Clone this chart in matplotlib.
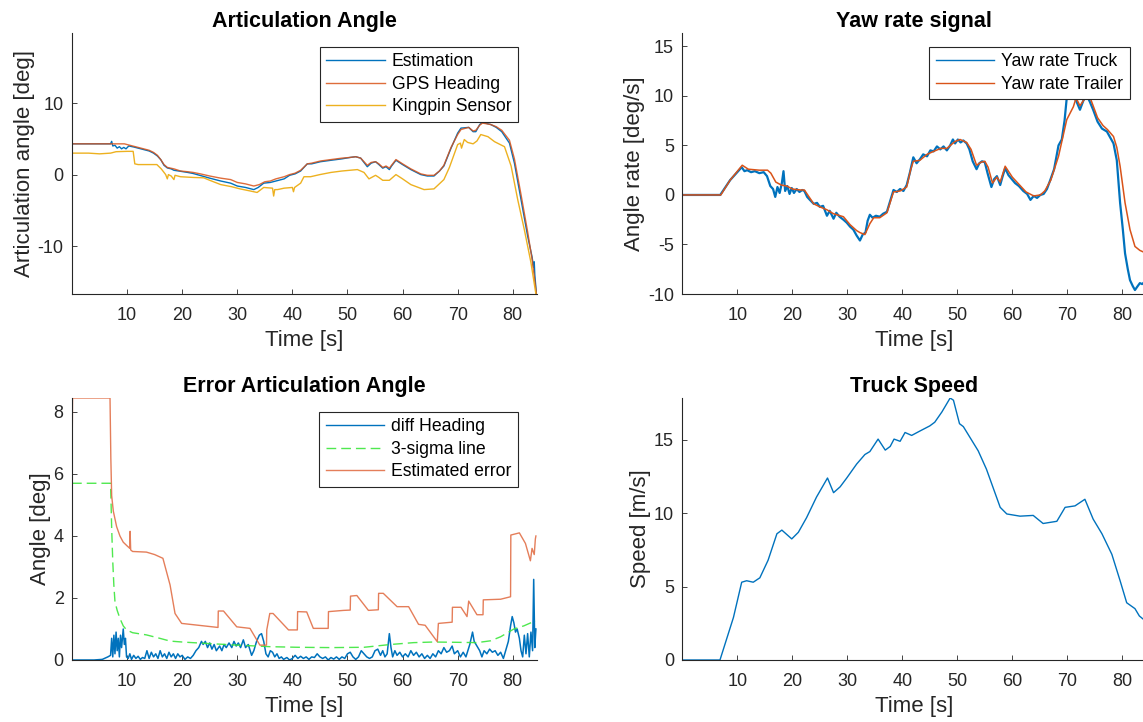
import numpy as np
import matplotlib
matplotlib.use('Agg')
import matplotlib.pyplot as plt

plt.rcParams['font.family'] = ['Liberation Sans', 'DejaVu Sans']
plt.rcParams['axes.unicode_minus'] = False

# ---- articulation angle [deg] ----
est_t = [0, 7.0, 7.2, 7.4, 7.8, 8.2, 8.6, 9.0, 9.4, 9.8, 10.3, 11.2, 12, 13, 14, 14.8, 15.5, 16.1, 16.7,
         17.3, 18, 18.5, 19.7, 21, 22, 23.3, 25, 27, 28.8, 30, 31.5, 33, 33.8, 34.8, 36, 37, 38.5, 39.5,
         40.5, 41.5, 42.7, 43.5, 45.1, 47, 49, 50.5, 51.5, 52.4, 53.6, 54.3, 55.1, 55.7, 56.4, 57.0, 57.6,
         58.0, 58.8, 60, 61.5, 63.3, 64.5, 65.7, 66.7, 67.5, 68.8, 70, 70.6, 72, 72.8, 73.3, 74, 74.5, 76,
         77, 78, 79.4, 80.3, 81.5, 82.7, 83.5, 83.8, 83.9, 84.0, 84.3]
est = [4.3, 4.3, 4.65, 4.0, 4.1, 3.7, 3.9, 3.6, 3.8, 3.6, 4.0, 3.86, 3.7, 3.5, 3.3, 3.0, 2.6, 2.1, 1.3,
       0.93, 0.8, 0.6, 0.46, 0.3, 0.15, -0.13, -0.5, -0.9, -1.2, -1.6, -1.8, -2.1, -1.8, -1.2, -1.1, -0.9,
       -0.6, -0.1, 0.1, 0.5, 1.5, 1.5, 1.8, 2.0, 2.2, 2.4, 2.5, 2.3, 1.1, 1.6, 1.8, 1.4, 0.9, 1.1, 0.7,
       1.2, 2.0, 1.4, 0.7, 0.0, -0.2, -0.2, 0.5, 1.2, 3.7, 5.8, 6.5, 6.6, 6.0, 6.0, 7.0, 7.3, 7.0,
       6.6, 6.0, 4.4, 1.6, -3.5, -8.6, -11.5, -13.0, -12.2, -14.0, -16.7]

gps_t = [0, 9.5, 10.5, 11.5, 13, 14, 14.8, 15.5, 16.1, 16.7, 17.3, 18.5, 19.7, 21, 22, 23.3, 25, 27, 28.8,
         30, 31.5, 33, 34, 35, 36, 37, 38.5, 39.5, 40.5, 41.5, 42.7, 43.5, 45.1, 47, 49, 50.5, 51.5, 52.4,
         53.6, 54.3, 55.1, 55.7, 56.4, 57.0, 57.6, 58.0, 58.8, 60, 61.5, 63.3, 64.5, 65.7, 66.7, 67.5, 68.8,
         70, 70.6, 72, 72.8, 73.3, 74, 74.5, 76, 77, 78, 79.4, 80.3, 81.5, 82.7, 83.5, 84.3]
gps = [4.3, 4.3, 4.1, 3.9, 3.6, 3.4, 3.1, 2.7, 2.1, 1.4, 1.0, 0.8, 0.5, 0.4, 0.3, 0.1, -0.2, -0.5, -0.7,
       -1.1, -1.3, -1.6, -1.4, -1.0, -0.9, -0.6, -0.3, 0.0, 0.2, 0.6, 1.5, 1.6, 1.9, 2.1, 2.3, 2.4, 2.5, 2.3,
       1.3, 1.7, 1.8, 1.5, 1.0, 1.2, 0.9, 1.3, 2.1, 1.5, 0.8, 0.1, -0.1, -0.1, 0.5, 1.3, 3.8,
       5.6, 6.3, 6.6, 6.1, 6.2, 6.9, 7.2, 7.0, 6.7, 6.2, 4.8, 2.2, -2.8, -8.0, -11.8, -16.7]

king_t = [0, 3, 5, 7, 8, 10, 11.1, 11.4, 12, 13, 14, 15.4, 16.2, 17.0, 17.3, 17.5, 18, 18.5, 18.7, 19.7,
          22, 23.9, 25, 27, 29, 30.5, 32.4, 33.6, 34.8, 36.4, 36.6, 36.8, 37.3, 38.5, 40.0, 40.2, 40.4, 41.5,
          42.1, 43.3, 45, 47, 49, 51.8, 53.0, 53.9, 55.1, 55.7, 56.4, 57.6, 58.8, 60, 61.5, 63.9, 65.7, 67.5,
          68.5, 70, 70.5, 70.7, 71.2, 71.8, 72.8, 73.5, 74.2, 75.5, 76.7, 78.5, 79.7, 80.9, 82.1, 83.3, 84.2]
king = [3.0, 3.0, 2.9, 3.0, 3.2, 3.25, 3.25, 1.5, 1.4, 1.4, 1.4, 1.4, 0.8, 0.0, -0.6, 0.0, -0.2, -0.7, -0.1, -0.3,
        -0.4, -0.45, -0.8, -1.4, -1.7, -2.0, -2.3, -2.5, -1.8, -1.9, -3.0, -2.1, -2.1, -1.9, -1.8, -2.4, -1.8, -1.2,
        -0.3, -0.3, 0.0, 0.3, 0.5, 0.7, 0.3, -0.6, -0.1, -0.4, -0.8, -0.8, 0.0, -0.6, -1.4, -2.1, -2.0, -0.7,
        1.0, 4.2, 4.4, 3.7, 4.9, 4.5, 4.3, 4.7, 5.6, 5.3, 4.6, 3.9, 1.2, -3.5, -7.7, -12.3, -16.7]

# ---- yaw rate [deg/s] ----
truck_t = [0, 6.9, 8.7, 10.0, 10.8, 11.3, 11.8, 12.5, 13.2, 14.0, 14.8, 15.4, 16.0, 16.5, 16.9, 17.3, 17.7,
           18.1, 18.4, 18.7, 19.1, 19.5, 19.9, 20.3, 20.8, 21.3, 21.8, 22.2, 22.7, 23.2, 23.9, 24.5, 25.0,
           25.6, 26.3, 26.8, 27.5, 28.0, 28.6, 29.3, 29.9, 30.5, 31.1, 31.7, 32.3, 32.8, 33.3, 33.7, 34.1,
           34.6, 35.2, 35.9, 36.5, 37.2, 37.8, 38.4, 39.0, 39.6, 40.2, 40.8, 41.4, 42.0, 42.6, 43.2, 43.8,
           44.5, 45.1, 45.7, 46.3, 46.9, 47.5, 48.1, 48.7, 49.2, 49.6, 50.1, 50.6, 51.1, 51.7, 52.2, 52.8,
           53.5, 54.0, 54.5, 55.0, 55.5, 56.2, 56.7, 57.2, 57.8, 58.2, 58.7, 59.3, 59.9, 60.5, 61.2, 62.0,
           62.7, 63.3, 63.9, 64.5, 65.1, 65.7, 66.3, 66.9, 67.6, 68.4, 69.0, 69.5, 69.9, 70.5, 71.1, 71.7,
           72.3, 72.9, 73.5, 74.1, 74.7, 75.5, 76.3, 77.2, 77.8, 78.4, 79.0, 79.6, 80.1, 80.5, 81.0, 81.4,
           81.9, 82.3, 82.8, 83.2, 83.6, 84.0]
truck = [0, 0, 1.5, 2.3, 2.8, 2.4, 2.5, 2.3, 2.4, 2.2, 2.3, 1.9, 0.9, 0.6, -0.2, 0.8, 0.2,
         1.2, 2.4, 0.4, 0.9, 0.1, 0.7, 0.2, 0.6, 0.3, 0.5, 0.4, -0.2, -0.5, -0.9, -0.8, -1.2,
         -1.1, -2.1, -1.6, -2.4, -1.8, -2.2, -2.5, -2.8, -3.2, -3.5, -4.1, -4.6, -4.0, -3.8, -2.6, -2.0,
         -2.3, -2.1, -2.2, -1.9, -1.7, -0.6, 0.5, 0.3, 0.6, 0.4, 1.0, 2.3, 3.8, 3.2, 3.6, 4.1,
         3.9, 4.5, 4.4, 4.9, 4.6, 4.9, 4.5, 5.0, 5.6, 5.2, 5.6, 5.3, 5.5, 5.2, 4.6, 3.4,
         2.6, 3.2, 3.4, 3.3, 2.2, 0.8, 1.6, 1.9, 1.0, 1.8, 2.7, 2.0, 1.6, 1.2, 0.9, 0.4,
         0.1, -0.5, -0.1, -0.3, 0.0, 0.1, 0.6, 1.5, 2.6, 5.0, 5.6, 7.5, 9.8, 9.9, 10.0, 9.4,
         8.6, 9.5, 10.1, 9.4, 8.6, 7.4, 6.7, 6.4, 5.8, 5.2, 3.5, -0.8, -3.5, -5.9, -7.5, -8.6,
         -9.2, -9.6, -9.2, -8.9, -9.0, -8.8]

trailer_t = [0, 7.0, 8.7, 10.9, 12, 14, 15.5, 16.1, 17, 18, 19, 20, 21.5, 22.2, 23.9, 25, 26.3, 27.5, 29.3,
             30.5, 31.7, 32.3, 33.2, 34.1, 34.8, 35.9, 37.2, 38.4, 39.6, 40.8, 41.5, 42, 43.2, 44.5, 45.7,
             47, 48.1, 49.6, 50.5, 51.7, 52.5, 53.5, 54.3, 55, 55.6, 56.4, 57.2, 57.8, 58.7, 60, 61.5, 62.5,
             63.9, 65.1, 65.9, 67, 68.4, 69.9, 71.1, 71.6, 72.3, 73.5, 74.3, 75.5, 76.5, 77.3, 78.4, 79.0,
             79.6, 80.5, 81.4, 82.3, 83.2, 84.0]
trailer = [0, 0, 1.5, 3.0, 2.6, 2.5, 2.5, 2.2, 1.3, 1.0, 0.9, 0.6, 0.5, 0.5, -0.9, -1.2, -1.5, -1.9, -2.2,
           -3.0, -3.6, -3.8, -4.0, -2.9, -2.3, -2.3, -1.8, 0.3, 0.4, 0.8, 2.5, 3.4, 3.5, 4.1, 4.4,
           4.7, 4.7, 5.4, 5.6, 5.3, 4.6, 3.0, 3.3, 3.4, 2.8, 1.2, 1.8, 1.3, 2.9, 1.8, 0.9, 0.3,
           -0.1, 0.0, 0.4, 1.5, 3.9, 7.6, 8.9, 9.8, 9.0, 10.0, 9.6, 7.8, 7.0, 6.6, 5.9, 4.8,
           2.9, -0.8, -3.5, -5.2, -5.6, -5.8]

# ---- articulation angle error [deg] ----
diff_t = [0, 2, 4, 5.5, 6.5, 7.0, 7.2, 7.4, 7.6, 7.8, 8.0, 8.2, 8.4, 8.6, 8.8, 9.0, 9.3, 9.5, 9.7, 9.9,
          10.2, 10.5, 10.8, 11.2, 11.6, 12.0, 12.4, 12.8, 13.2, 13.6, 14.0, 14.4, 14.8, 15.2, 15.6, 16.0,
          16.4, 16.8, 17.2, 17.6, 18.0, 18.4, 18.8, 19.2, 19.6, 20.0, 20.5, 21.0, 21.5, 22.0, 22.5, 23.0,
          23.5, 23.8, 24.2, 24.6, 25.0, 25.4, 25.8, 26.2, 26.8, 27.2, 27.6, 28.0, 28.5, 29.0, 29.4, 29.8,
          30.2, 30.6, 31.1, 31.5, 32.0, 32.6, 33.0, 33.5, 34.0, 34.4, 34.8, 35.2, 35.6, 36.0, 36.4, 36.8,
          37.2, 37.6, 38.0, 38.4, 39.0, 39.5, 40, 40.5, 41, 41.5, 42, 42.5, 43, 43.5, 44, 44.5, 45, 45.5,
          46, 46.5, 47, 47.5, 48, 48.5, 49, 49.5, 50, 50.5, 51, 51.5, 52, 52.5, 53, 53.5, 54, 54.5, 55,
          55.5, 56, 56.4, 56.8, 57.2, 57.6, 57.9, 58.2, 58.6, 59, 59.5, 60, 60.5, 61, 61.5, 62, 62.5, 63,
          63.5, 64, 64.5, 65, 65.5, 66, 66.5, 67, 67.5, 68, 68.5, 69, 69.4, 70, 70.5, 71, 71.5, 72.2,
          72.7, 73.0, 73.5, 74, 74.4, 74.8, 75.3, 75.8, 76.3, 76.8, 77.3, 77.8, 78.3, 78.7, 79.2, 79.6,
          79.9, 80.2, 80.5, 80.8, 81.2, 81.5, 81.8, 82.1, 82.4, 82.7, 83.0, 83.3, 83.6, 83.8, 84.0, 84.2]
diff_heading = [0, 0.0, 0.0, 0.02, 0.1, 0.15, 0.7, 0.1, 0.8, 0.2, 0.9, 0.3, 0.7, 0.1, 0.8, 0.4, 1.0, 0.5,
                0.7, 0.1, 0.05, 0.2, 0.02, 0.15, 0.05, 0.12, 0.02, 0.08, 0.05, 0.3, 0.05, 0.25, 0.1, 0.2,
                0.05, 0.3, 0.1, 0.2, 0.05, 0.25, 0.1, 0.2, 0.05, 0.2, 0.1, 0.15, 0.02, 0.1, 0.05, 0.15,
                0.3, 0.4, 0.6, 0.5, 0.6, 0.4, 0.55, 0.35, 0.5, 0.3, 0.45, 0.3, 0.5, 0.4, 0.55, 0.4, 0.6,
                0.45, 0.55, 0.4, 0.65, 0.4, 0.5, 0.15, 0.3, 0.6, 0.8, 0.85, 0.6, 0.2, 0.1, 0.3, 0.25, 0.1,
                0.2, 0.05, 0.1, 0.02, 0.08, 0.0, 0.05, 0.15, 0.05, 0.12, 0.05, 0.1, 0.02, 0.1, 0.08, 0.2,
                0.1, 0.05, 0.1, 0.0, 0.08, 0.03, 0.1, 0.02, 0.1, 0.05, 0.2, 0.25, 0.1, 0.02, 0.1, 0.3,
                0.2, 0.1, 0.05, 0.1, 0.3, 0.35, 0.15, 0.3, 0.1, 0.2, 0.85, 0.4, 0.1, 0.3, 0.15, 0.25, 0.1,
                0.2, 0.1, 0.3, 0.15, 0.25, 0.1, 0.2, 0.05, 0.15, 0.05, 0.2, 0.1, 0.3, 0.2, 0.4, 0.25, 0.3,
                0.45, 0.2, 0.3, 0.1, 0.25, 0.1, 0.5, 0.9, 0.6, 0.45, 0.3, 0.1, 0.3, 0.2, 0.35, 0.25, 0.3,
                0.15, 0.25, 0.05, 0.3, 0.6, 1.1, 1.4, 1.2, 0.9, 1.0, 0.7, 0.3, 0.1, 0.8, 0.2, 0.85, 0.1,
                0.9, 0.3, 2.6, 0.4, 1.0]

sigma_t = [0, 7.0, 7.1, 7.2, 7.4, 7.6, 7.8, 8.2, 8.7, 9.3, 9.9, 11, 13.5, 15.5, 17.8, 20, 23.8, 30, 35.9,
           41, 47, 53, 57.8, 62, 65.6, 70, 73.5, 76, 77.8, 80.2, 82, 83.8, 84.2]
sigma3 = [5.7, 5.7, 5.0, 4.25, 3.17, 2.4, 1.88, 1.6, 1.34, 1.1, 0.97, 0.88, 0.81, 0.72, 0.61, 0.58, 0.54,
          0.48, 0.43, 0.41, 0.40, 0.41, 0.5, 0.56, 0.58, 0.57, 0.56, 0.62, 0.75, 1.0, 1.1, 1.24, 1.25]

err_t = [0, 0.1, 6.9, 7.05, 7.2, 7.5, 8.1, 8.7, 9.3, 10.0, 10.5, 10.55, 10.65, 11.0, 13.5, 15.0, 16.5,
         17.8, 18.7, 19.9, 26.5, 26.55, 27.5, 29.9, 32.3, 34.1, 35.3, 35.35, 35.9, 36.5, 39.3, 40.9, 40.95,
         42.6, 43.8, 46.5, 46.55, 49.3, 50.5, 50.55, 51.7, 53.8, 55.6, 55.65, 56.5, 59.0, 61.1, 62.9, 64.1,
         66.3, 66.5, 69.0, 69.05, 70.6, 71.7, 72.0, 73.5, 74.6, 74.65, 77.8, 79.6, 79.65, 81.2, 82.3, 83.2,
         83.5, 83.9, 84.1, 84.2]
est_err = [6.3, 8.45, 8.45, 6.5, 5.3, 4.8, 4.3, 4.0, 3.8, 3.68, 3.6, 4.15, 3.55, 3.5, 3.48, 3.4, 3.28,
           2.42, 1.5, 1.18, 1.05, 1.58, 1.58, 1.07, 1.02, 0.48, 0.48, 0.97, 1.5, 1.5, 0.97, 0.97, 1.56,
           1.55, 1.02, 1.02, 1.56, 1.6, 1.61, 2.06, 2.08, 1.6, 1.62, 2.15, 2.15, 1.72, 1.72, 1.15, 1.12,
           0.59, 1.18, 1.22, 1.7, 1.7, 1.4, 1.9, 1.46, 1.46, 1.94, 1.96, 2.04, 4.03, 4.1, 3.76, 3.2,
           3.6, 3.4, 3.9, 4.0]

# ---- truck speed [m/s] ----
speed_t = [0, 6.85, 9.3, 10.8, 11.7, 12.9, 14.1, 15.6, 17.2, 18.1, 19.9, 21.1, 22.6, 24.4, 26.4, 27.5, 28.7,
           29.9, 31.7, 33.2, 34.1, 35.6, 36.9, 37.8, 38.5, 39.6, 40.5, 41.7, 43.2, 45, 45.9, 47.2, 48.7, 49.3,
           50.4, 51.1, 53.8, 55.3, 57.8, 59, 61.4, 63.8, 65.6, 68.1, 69.6, 71.4, 73.2, 74.7, 76.3, 78.1,
           79.6, 80.8, 82.3, 83.1, 84.4]
speed = [0, 0, 2.9, 5.3, 5.4, 5.3, 5.6, 6.8, 8.6, 8.85, 8.25, 8.7, 9.7, 11.1, 12.4, 11.4, 11.8,
         12.4, 13.35, 14.0, 14.2, 15.05, 14.3, 14.55, 15.05, 14.9, 15.5, 15.3, 15.6, 15.95, 16.2, 16.9, 17.85, 17.7,
         16.1, 15.9, 14.25, 13.0, 10.4, 9.95, 9.8, 9.85, 9.3, 9.45, 10.4, 10.5, 10.95, 9.6, 8.6, 7.2,
         5.4, 3.9, 3.5, 3.0, 2.6]

blue = '#0072BD'
orange = '#D95319'
yellow = '#EDB120'
W, H = 1143, 722

fig = plt.figure(figsize=(W / 100, H / 100), dpi=100)


def box(x0, x1, ytop, ybot):
    return [x0 / W, 1 - ybot / H, (x1 - x0) / W, (ybot - ytop) / H]


def style(ax, xmax=84.4):
    for s in ['top', 'right']:
        ax.spines[s].set_visible(False)
    for s in ['left', 'bottom']:
        ax.spines[s].set_color('#262626')
        ax.spines[s].set_linewidth(0.8)
    ax.tick_params(direction='in', length=3.3, width=0.6, labelsize=13, colors='#262626')
    ax.tick_params(axis='x', pad=9.5)
    ax.tick_params(axis='y', pad=6)
    ax.set_xlim(0, xmax)
    ax.set_xticks(range(10, 90, 10))
    ax.set_xlabel('Time [s]', fontsize=16, color='#262626', labelpad=4.5)


def leg(ax, right, top):
    lg = ax.legend(loc='upper right', bbox_to_anchor=(right / W, 1 - top / H), bbox_transform=fig.transFigure,
                   fontsize=12.7, fancybox=False, framealpha=1, edgecolor='#262626', borderaxespad=0,
                   handlelength=3.3, handletextpad=0.4, labelspacing=0.3, borderpad=0.38)
    lg.get_frame().set_linewidth(0.8)
    for h in lg.get_lines():
        h.set_linewidth(1.0)
    return lg


# articulation angle
ax1 = fig.add_axes(box(72, 537, 33, 294))
ax1.plot(est_t, est, color=blue, lw=1.0, label='Estimation')
ax1.plot(gps_t, gps, color=orange, lw=1.0, alpha=0.85, label='GPS Heading')
ax1.plot(king_t, king, color=yellow, lw=1.0, label='Kingpin Sensor')
style(ax1)
ax1.set_ylim(-16.7, 19.8)
ax1.set_yticks([-10, 0, 10])
ax1.set_ylabel('Articulation angle [deg]', fontsize=16, color='#262626', labelpad=2)
ax1.set_title('Articulation Angle', fontsize=15.5, fontweight='bold', pad=4)
leg(ax1, 518, 46.7)

# yaw rate
ax2 = fig.add_axes(box(682.3, 1146.5, 33, 294))
ax2.plot(truck_t, truck, color=blue, lw=1.6, label='Yaw rate Truck')
ax2.plot(trailer_t, trailer, color=orange, lw=1.1, label='Yaw rate Trailer')
style(ax2)
ax2.set_ylim(-10, 16.35)
ax2.set_yticks([-10, -5, 0, 5, 10, 15])
ax2.set_ylabel('Angle rate [deg/s]', fontsize=16, color='#262626', labelpad=2)
ax2.set_title('Yaw rate signal', fontsize=15.5, fontweight='bold', pad=4)
leg(ax2, 1130, 46.7)

# error of the articulation angle
ax3 = fig.add_axes(box(72, 537, 398, 660))
ax3.plot(diff_t, diff_heading, color=blue, lw=1.1, label='diff Heading')
ax3.plot(sigma_t, sigma3, color='#3CE63C', lw=1.0, dashes=(7, 3.6), alpha=0.9, label='3-sigma line')
ax3.plot(err_t, est_err, color='#E27048', lw=1.0, alpha=0.9, label='Estimated error')
style(ax3)
ax3.set_ylim(0, max(est_err))
ax3.set_yticks([0, 2, 4, 6, 8])
ax3.set_ylabel('Angle [deg]', fontsize=16, color='#262626', labelpad=2)
ax3.set_title('Error Articulation Angle', fontsize=15.5, fontweight='bold', pad=4)
leg(ax3, 518.3, 411.7)

# speed
ax4 = fig.add_axes(box(682.3, 1146.5, 398, 660))
ax4.plot(speed_t, speed, color=blue, lw=1.0)
style(ax4)
ax4.set_ylim(0, max(speed))
ax4.set_yticks([0, 5, 10, 15])
ax4.set_ylabel('Speed [m/s]', fontsize=16, color='#262626', labelpad=2)
ax4.set_title('Truck Speed', fontsize=15.5, fontweight='bold', pad=4)

fig.savefig('out.png', dpi=100)
